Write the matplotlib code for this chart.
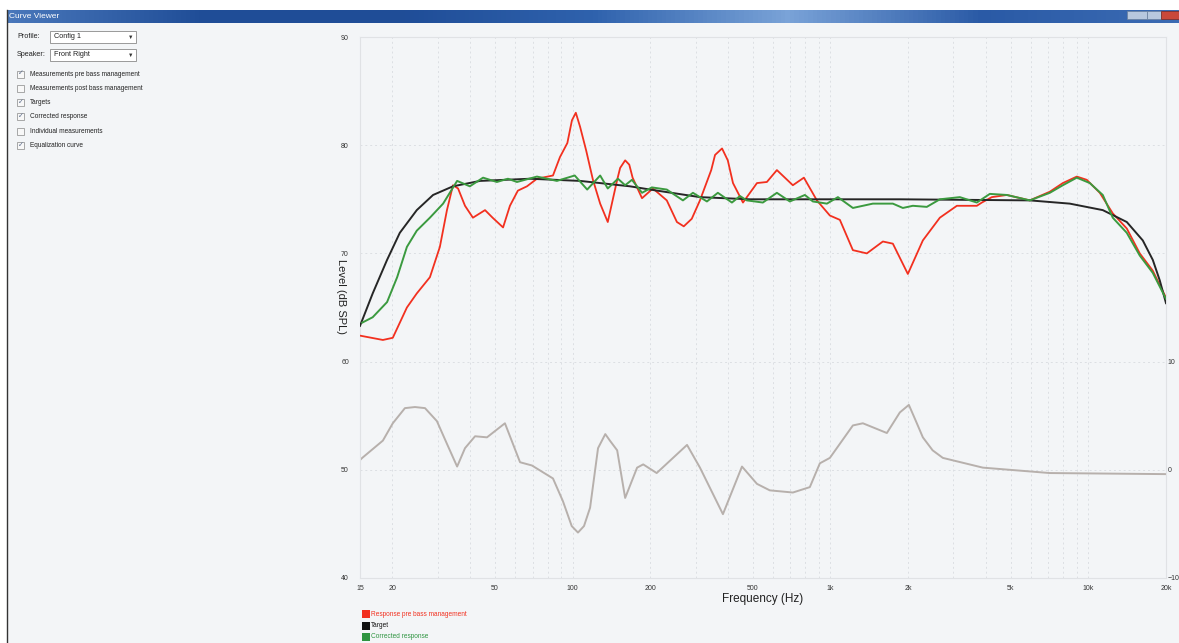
import matplotlib.pyplot as plt
from matplotlib.patches import Rectangle
from matplotlib.colors import LinearSegmentedColormap
import numpy as np

# ---- data (frequency in Hz, level in dB SPL) ----
red_freq = [15, 18.4, 20.1, 22.8, 24.9, 28.0, 30.6, 32.6, 34.4, 36.0, 38.3, 41.1, 45.8,
            49.0, 53.8, 57.2, 61.4, 66.6, 72.8, 84.0, 89.4, 95.5, 99.5, 103, 107, 113, 120,
            128, 137, 149, 153, 160, 166, 171, 186, 205, 232, 254, 270, 290, 312, 345,
            357, 380, 400, 419, 458, 519, 567, 620, 715, 789, 886, 995, 1088, 1222, 1384,
            1597, 1746, 1996, 2282, 2656, 3092, 3695, 3864, 4224, 4830, 5929, 7088, 7962,
            9020, 9860, 11075, 12435, 14093, 15825, 17775, 20000]
red_db = [62.4, 62.0, 62.2, 65.0, 66.3, 67.8, 70.6, 74.0, 76.3, 76.0, 74.4, 73.3, 74.0,
          73.3, 72.4, 74.4, 75.8, 76.2, 76.9, 77.2, 78.9, 80.2, 82.3, 83.0, 81.7, 79.5, 76.8,
          74.6, 72.9, 76.8, 77.9, 78.6, 78.2, 77.0, 75.1, 76.0, 74.9, 72.9, 72.5, 73.2, 74.9,
          77.7, 79.1, 79.7, 78.6, 76.5, 74.7, 76.5, 76.6, 77.7, 76.3, 77.0, 74.9, 73.5, 73.1,
          70.3, 70.0, 71.1, 70.9, 68.1, 71.2, 73.3, 74.4, 74.4, 74.7, 75.2, 75.4, 74.9, 75.7,
          76.5, 77.1, 76.8, 75.6, 73.7, 72.3, 70.0, 68.4, 65.9]

green_freq = [15.3, 16.8, 19.1, 20.9, 22.8, 24.9, 28.0, 31.5, 35.7, 40.0, 45.0, 50.9,
              56.2, 60.9, 72.8, 87.0, 102, 114, 128, 137, 150, 160, 170, 186, 203,
              232, 268, 293, 332, 366, 415, 446, 474, 547, 620, 696, 796, 855, 969,
              1069, 1222, 1460, 1746, 1909, 2087, 2364, 2656, 3175, 3695, 4150, 4830,
              5929, 7088, 7962, 9020, 10130, 11375, 12435, 14093, 15825, 17775, 20000]
green_db = [63.6, 64.1, 65.5, 67.8, 70.6, 72.1, 73.3, 74.6, 76.7, 76.2, 77.0, 76.6,
            76.9, 76.6, 77.1, 76.7, 77.2, 75.9, 77.2, 76.0, 76.9, 76.3, 76.8, 75.6,
            76.1, 75.9, 74.9, 75.6, 74.8, 75.6, 74.7, 75.3, 74.9, 74.7, 75.6, 74.8,
            75.4, 74.8, 74.6, 75.2, 74.2, 74.6, 74.6, 74.2, 74.4, 74.3, 75.0, 75.2,
            74.7, 75.5, 75.4, 74.9, 75.6, 76.3, 77.0, 76.5, 75.4, 73.3, 71.9, 69.8,
            68.2, 65.8]

target_freq = [15, 16.8, 19.1, 21.4, 24.9, 28.8, 34.4, 43.8, 68.4, 107, 167, 200,
               312, 487, 1858, 5929, 8473, 11375, 14093, 16255, 17775, 18920, 20000]
target_db = [63.3, 66.3, 69.4, 71.9, 74.0, 75.4, 76.2, 76.7, 76.9, 76.7, 76.2, 75.9,
             75.2, 75.0, 75.0, 74.9, 74.6, 74.0, 72.9, 71.2, 69.4, 67.5, 65.4]

# equalization curve, right axis (dB)
eq_freq = [15, 15.3, 18.4, 20.1, 22.4, 24.5, 26.8, 29.8, 32.6, 35.7, 38.3, 41.9, 46.6,
           54.7, 62.6, 69.6, 84.0, 91.8, 99.3, 105, 110.8, 117, 125.6, 134, 139.6, 149,
           160, 178, 188, 212, 278, 312, 383, 454, 519, 582, 715, 832, 910, 995, 1222,
           1336, 1655, 1858, 2014, 2145, 2282, 2490, 2728, 3898, 7088, 20000]
eq_db = [0.9, 1.1, 2.7, 4.3, 5.7, 5.8, 5.7, 4.5, 2.4, 0.3, 2.0, 3.1, 3.0,
         4.3, 0.7, 0.4, -0.8, -2.9, -5.2, -5.8, -5.2, -3.5, 2.0, 3.3, 2.7, 1.8,
         -2.6, 0.2, 0.5, -0.3, 2.3, 0.2, -4.1, 0.3, -1.3, -1.9, -2.1, -1.6, 0.6, 1.1, 4.1,
         4.3, 3.4, 5.3, 6.0, 4.5, 3.0, 1.8, 1.1, 0.2, -0.3, -0.4]

x_ticks = [15, 20, 50, 100, 200, 500, 1000, 2000, 5000, 10000, 20000]
x_labels = ['15', '20', '50', '100', '200', '500', '1k', '2k', '5k', '10k', '20k']
y_ticks = [40, 50, 60, 70, 80, 90]
eq_ticks = [-10, 0, 10]

checkboxes = [("Measurements pre bass management", True),
              ("Measurements post bass management", False),
              ("Targets", True),
              ("Corrected response", True),
              ("Individual measurements", False),
              ("Equalization curve", True)]

legend_items = [("Response pre bass management", '#f2301f'),
                ("Target", '#111111'),
                ("Corrected response", '#2e9440')]

W, H = 1179, 643
BG = '#f3f5f7'
plt.rcParams['font.family'] = ['Liberation Sans', 'DejaVu Sans']

fig = plt.figure(figsize=(W / 100, H / 100), dpi=100)
fig.patch.set_facecolor('white')

# ---- window chrome drawn in pixel coordinates ----
ui = fig.add_axes([0, 0, 1, 1], zorder=0)
ui.set_xlim(0, W)
ui.set_ylim(H, 0)
ui.axis('off')
ui.add_patch(Rectangle((7, 22), W - 7, H - 22, facecolor=BG, edgecolor='none'))
grad = np.linspace(0, 1, 256).reshape(1, -1)
tb_cmap = LinearSegmentedColormap.from_list(
    'tb', ['#4a78bb', '#1f4d97', '#1f4d97', '#2f62ad', '#7aa3d8', '#2a5aa6', '#3b6bb3'])
ui.imshow(grad, extent=(7, W, 23, 10), aspect='auto', cmap=tb_cmap, zorder=1)
ui.plot([7, 7], [10, H], color='#333333', lw=1, zorder=2)
ui.text(9, 17, "Curve Viewer", color='white', fontsize=6, va='center', zorder=3)
ui.add_patch(Rectangle((1127, 11), 20, 8, facecolor='#b8c8de', edgecolor='#6a7f9c', lw=0.5, zorder=3))
ui.add_patch(Rectangle((1147, 11), 14, 8, facecolor='#b8c8de', edgecolor='#6a7f9c', lw=0.5, zorder=3))
ui.add_patch(Rectangle((1161, 11), 18, 8, facecolor='#c9483a', edgecolor='#7a2a22', lw=0.5, zorder=3))

# dropdowns
for yy, label, value in [(37, "Profile:", "Config 1"), (55, "Speaker:", "Front Right")]:
    ui.text(17, yy, label, fontsize=5.2, va='center', color='#222222', zorder=3)
    ui.add_patch(Rectangle((50, yy - 6), 86, 12, facecolor='white', edgecolor='#8a8a8a', lw=0.6, zorder=3))
    ui.text(54, yy, value, fontsize=5.2, va='center', color='#222222', zorder=4)
    ui.text(131, yy, "\u25bc", fontsize=4, va='center', ha='center', color='#333333', zorder=4)

# checkboxes
for i, (label, checked) in enumerate(checkboxes):
    yy = 74 + i * 14.3
    ui.add_patch(Rectangle((17, yy - 3.5), 7, 7, facecolor='#f8f8f8', edgecolor='#9a9a9a', lw=0.6, zorder=3))
    if checked:
        ui.text(20.5, yy, "\u2713", fontsize=5, ha='center', va='center', color='#5a6a8a', zorder=4)
    ui.text(30, yy, label, fontsize=4.7, va='center', color='#222222', zorder=3)

# ---- chart ----
ax = fig.add_axes([360 / W, 1 - 578 / H, 806 / W, 541 / H], zorder=2)
ax.set_facecolor(BG)
ax.set_xscale('log')
ax.set_xlim(15, 20000)
ax.set_ylim(40, 90)

ax.plot(eq_freq, [v + 50 for v in eq_db], color='#b7b0ac', lw=1.4, zorder=2,
        solid_joinstyle='round')
ax.plot(target_freq, target_db, color='#262626', lw=1.4, zorder=4, solid_joinstyle='round')
ax.plot(green_freq, green_db, color='#3b9a3f', lw=1.4, zorder=5, solid_joinstyle='round')
ax.plot(red_freq, red_db, color='#f2301f', lw=1.3, zorder=3, solid_joinstyle='round')

ax.set_xticks(x_ticks)
ax.set_xticklabels(x_labels)
ax.xaxis.set_minor_formatter(plt.NullFormatter())
ax.set_yticks(y_ticks)
ax.tick_params(axis='both', which='both', length=0, labelsize=5, labelcolor='#333333')
ax.tick_params(axis='y', pad=8)
ax.tick_params(axis='x', pad=5)
ax.grid(True, which='both', axis='x', linestyle=(0, (2, 3)), color='#dcdfe3', lw=0.7)
ax.grid(True, which='major', axis='y', linestyle=(0, (2, 3)), color='#dcdfe3', lw=0.7)
for s in ax.spines.values():
    s.set_color('#e0e2e5')
    s.set_linewidth(0.8)

ax.set_xlabel("Frequency (Hz)", fontsize=8.5, color='#222222', labelpad=1)
ax.set_ylabel("Level (dB SPL)", fontsize=8, color='#222222', rotation=-90, labelpad=6)
ax.yaxis.set_label_coords(-0.03, 0.52)

ax2 = ax.twinx()
ax2.set_ylim(-10, 40)
ax2.set_yticks(eq_ticks)
ax2.tick_params(axis='y', length=0, labelsize=5, labelcolor='#333333', pad=1)
for s in ax2.spines.values():
    s.set_visible(False)

# legend under the chart
for i, (label, col) in enumerate(legend_items):
    yy = 614 + i * 11.5
    ui.add_patch(Rectangle((362, yy - 4), 8, 8, facecolor=col, edgecolor='none', zorder=3))
    ui.text(371, yy, label, fontsize=4.7, va='center', color=col, zorder=3)

fig.savefig("out.png", dpi=100, facecolor=fig.get_facecolor())
